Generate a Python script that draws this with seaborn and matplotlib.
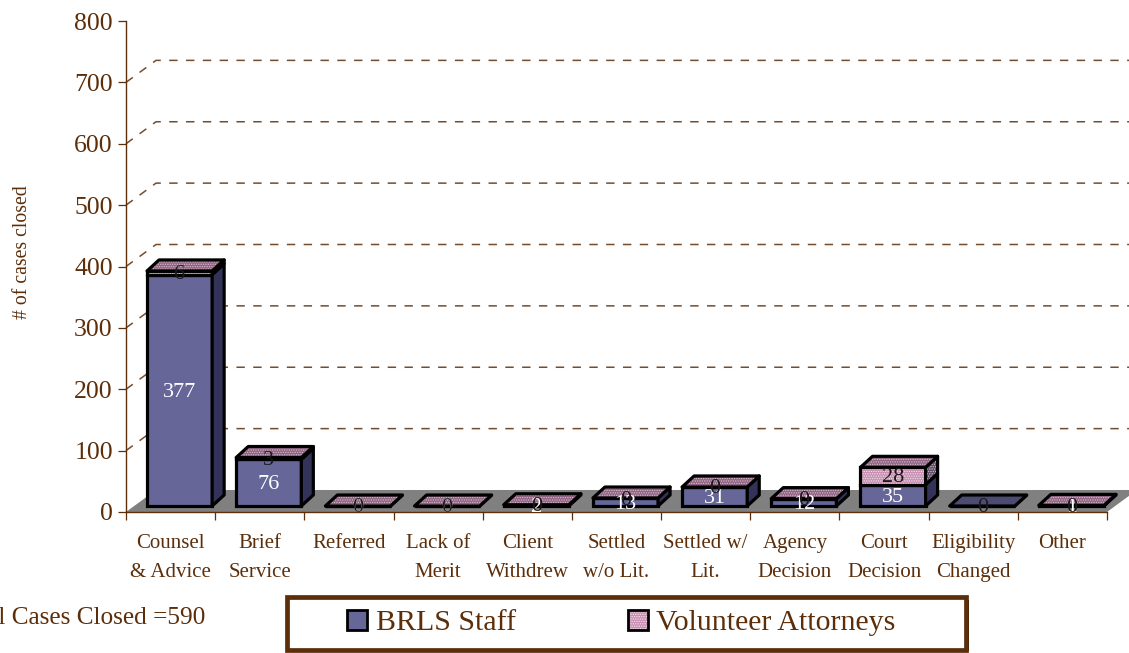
"""
Cases closed by outcome, staff versus volunteer attorneys (3D look stacked bars).
"""

import matplotlib.pyplot as plt
import pandas as pd
import seaborn as sns
from matplotlib.colors import to_rgba
from matplotlib.patches import Patch, Polygon, Rectangle
from matplotlib.transforms import Affine2D, IdentityTransform

categories = ['Counsel\n& Advice', 'Brief\nService', 'Referred', 'Lack of\nMerit', 'Client\nWithdrew',
              'Settled\nw/o Lit.', 'Settled w/\nLit.', 'Agency\nDecision', 'Court\nDecision',
              'Eligibility\nChanged', 'Other']
staff_cases = [377, 76, 0, 0, 2, 13, 31, 12, 35, 0, 1]
volunteer_cases = [6, 3, 0, 0, 0, 0, 0, 0, 28, 0, 0]
y_ticks = [0, 100, 200, 300, 400, 500, 600, 700, 800]
grid_values = [100, 200, 300, 400, 500, 600, 700]
series_names = ['BRLS Staff', 'Volunteer Attorneys']
total_text = 'Total Cases Closed =590'

W, H = 1129, 653
BROWN = '#5c2e0a'
BLUE, BLUE_SIDE = '#666699', '#33335a'
PINK, PINK_TOP, PINK_SIDE = '#c98fb2', '#8f6482', '#5f5066'
DITHER = '.......'

# offsets in pixels: back of the floor, front of the bars, depth of the bars
FLOOR_DX, FLOOR_DY = 30, 22
BAR_DX, BAR_DY = 9, 6
DEPTH_DX, DEPTH_DY = 12, 11

sns.set_theme(style='white')
plt.rcParams['font.family'] = ['Liberation Serif', 'DejaVu Serif']
plt.rcParams['hatch.linewidth'] = 0.6

fig = plt.figure(figsize=(W / 100, H / 100), dpi=100)
ax = fig.add_axes([126 / W, 1 - 512 / H, (1107 - 126) / W, (512 - 21) / H])
fig.patch.set_facecolor('white')

df = pd.DataFrame({'category': categories, 'staff': staff_cases, 'volunteer': volunteer_cases})

sns.barplot(data=df, x='category', y='staff', color=BLUE, saturation=1, width=0.73, ax=ax,
            edgecolor='black', linewidth=2.3, zorder=5)
staff_bars = list(ax.patches)
sns.barplot(data=df, x='category', y='volunteer', bottom=df['staff'], color=PINK, saturation=1, width=0.73,
            ax=ax, edgecolor='black', linewidth=2.3, zorder=5)
volunteer_bars = list(ax.patches)[len(staff_bars):]

ax.set_xlim(-0.5, len(categories) - 0.5)
ax.set_ylim(0, 800)
ax.set_yticks(y_ticks)
ax.set_xticks([i - 0.5 for i in range(len(categories) + 1)], minor=False)
ax.set_xticklabels([])
ax.set_xlabel('')
ax.set_ylabel('# of cases closed', fontsize=14.2, color=BROWN, labelpad=0)
ax.yaxis.set_label_coords((32 - 126) / 981, (512 - 252) / 491)
ax.tick_params(axis='both', length=6, width=0.9, color=BROWN, bottom=True, left=True)
ax.tick_params(axis='y', labelsize=18.5, labelcolor=BROWN, pad=3.5)
for name in ['top', 'right']:
    ax.spines[name].set_visible(False)
for name in ['left', 'bottom']:
    ax.spines[name].set_color(BROWN)
    ax.spines[name].set_linewidth(1.0)
ax.patch.set_alpha(0)

for i, label in enumerate(categories):
    ax.annotate(label, (i, 0), xytext=(0, -22), textcoords='offset pixels', ha='center', va='top',
                fontsize=15, color=BROWN, linespacing=1.68, annotation_clip=False)


def to_px(x, y):
    return tuple(ax.transData.transform((x, y)))


def set_dither(patch, color='#f2e4ec'):
    # hatch normally follows the edge colour, here the edge stays black
    patch.set_hatch(DITHER)
    patch._hatch_color = to_rgba(color)


def add_poly(points, face, hatch=False, zorder=4):
    poly = Polygon(points, closed=True, facecolor=face, edgecolor='black', linewidth=2.3,
                   transform=IdentityTransform(), clip_on=False, joinstyle='round')
    fig.add_artist(poly)
    poly.set_zorder(zorder)
    if hatch:
        set_dither(poly, '#d8bccd')
    return poly


# grey floor
x0, y0 = to_px(-0.5, 0)
x1, _ = to_px(len(categories) - 0.5, 0)
ax.add_patch(Polygon([(x0, y0), (x1, y0), (x1 + FLOOR_DX, y0 + FLOOR_DY), (x0 + FLOOR_DX, y0 + FLOOR_DY)],
                     closed=True, facecolor='#808080', edgecolor='none', transform=IdentityTransform(),
                     clip_on=False, zorder=1))

# dashed walls
for value in grid_values:
    px, py = to_px(-0.5, value)
    ax.plot([px, px + FLOOR_DX, W + 5], [py, py + FLOOR_DY, py + FLOOR_DY], color=BROWN, lw=1.1,
            ls=(0, (5.5, 5.5)), transform=IdentityTransform(), clip_on=False, zorder=2, alpha=0.85)

# move bars to their slot on the floor and add the side and top faces
bar_shift = Affine2D().translate(BAR_DX, BAR_DY)
for i, (s_bar, v_bar) in enumerate(zip(staff_bars, volunteer_bars)):
    for bar in (s_bar, v_bar):
        bar.set_transform(ax.transData + bar_shift)
        bar.set_clip_on(False)
        bar.set_zorder(10 + i)
    if volunteer_cases[i]:
        set_dither(v_bar)

    left = s_bar.get_x()
    right = left + s_bar.get_width()
    lx, by = to_px(left, 0)
    rx, _ = to_px(right, 0)
    lx, rx, by = lx + BAR_DX, rx + BAR_DX, by + BAR_DY
    scale = to_px(0, 1)[1] - to_px(0, 0)[1]
    sy = by + staff_cases[i] * scale
    ty = sy + volunteer_cases[i] * scale

    side = [(rx, by), (rx + DEPTH_DX, by + DEPTH_DY), (rx + DEPTH_DX, sy + DEPTH_DY), (rx, sy)]
    add_poly(side, BLUE_SIDE, zorder=9 + i)
    if volunteer_cases[i]:
        side = [(rx, sy), (rx + DEPTH_DX, sy + DEPTH_DY), (rx + DEPTH_DX, ty + DEPTH_DY), (rx, ty)]
        add_poly(side, PINK_SIDE, hatch=True, zorder=9 + i)
    has_volunteer = i != 9
    top = [(lx, ty), (rx, ty), (rx + DEPTH_DX, ty + DEPTH_DY), (lx + DEPTH_DX, ty + DEPTH_DY)]
    add_poly(top, PINK_TOP if has_volunteer else '#4c4c73', hatch=has_volunteer, zorder=9 + i)

# value labels on top of everything
for i, (s_val, v_val) in enumerate(zip(staff_cases, volunteer_cases)):
    cx, by = to_px(i, 0)
    scale = to_px(0, 1)[1] - to_px(0, 0)[1]
    if i != 9:
        fig.text((cx + BAR_DX) / W, (by + BAR_DY - 2 + s_val * scale / 2) / H, str(s_val), color='white',
                 fontsize=16, ha='center', va='center', zorder=40)
    fig.text((cx + BAR_DX) / W, (by + BAR_DY - 2 + (s_val + v_val / 2) * scale) / H, str(v_val), color='#1a1a1a',
             fontsize=16, ha='center', va='center', zorder=41)

fig.text(205 / W, 1 - 618 / H, total_text, ha='right', va='center', fontsize=18.2, color=BROWN)

# legend box with a black edge showing on the right
fig.add_artist(Rectangle((290 / W, 1 - 651 / H), 679 / W, 51 / H, facecolor='black', edgecolor='none',
                         transform=fig.transFigure, zorder=20))
fig.add_artist(Rectangle((287 / W, 1 - 650 / H), 679 / W, 53 / H, facecolor='white', edgecolor=BROWN,
                         linewidth=3.4, transform=fig.transFigure, zorder=21))
pink_handle = Patch(facecolor=PINK, edgecolor='black', linewidth=2)
set_dither(pink_handle)
handles = [Patch(facecolor=BLUE, edgecolor='black', linewidth=2), pink_handle]
legend = fig.legend(handles, series_names, ncol=2, loc='center left', bbox_to_anchor=(347 / W, 1 - 623 / H),
                    frameon=False, fontsize=21.5, labelcolor=BROWN, handlelength=0.68, handleheight=0.68,
                    handletextpad=0.28, columnspacing=3.75, borderaxespad=0, borderpad=0)
legend.set_zorder(22)

fig.savefig('out.png', dpi=100)
